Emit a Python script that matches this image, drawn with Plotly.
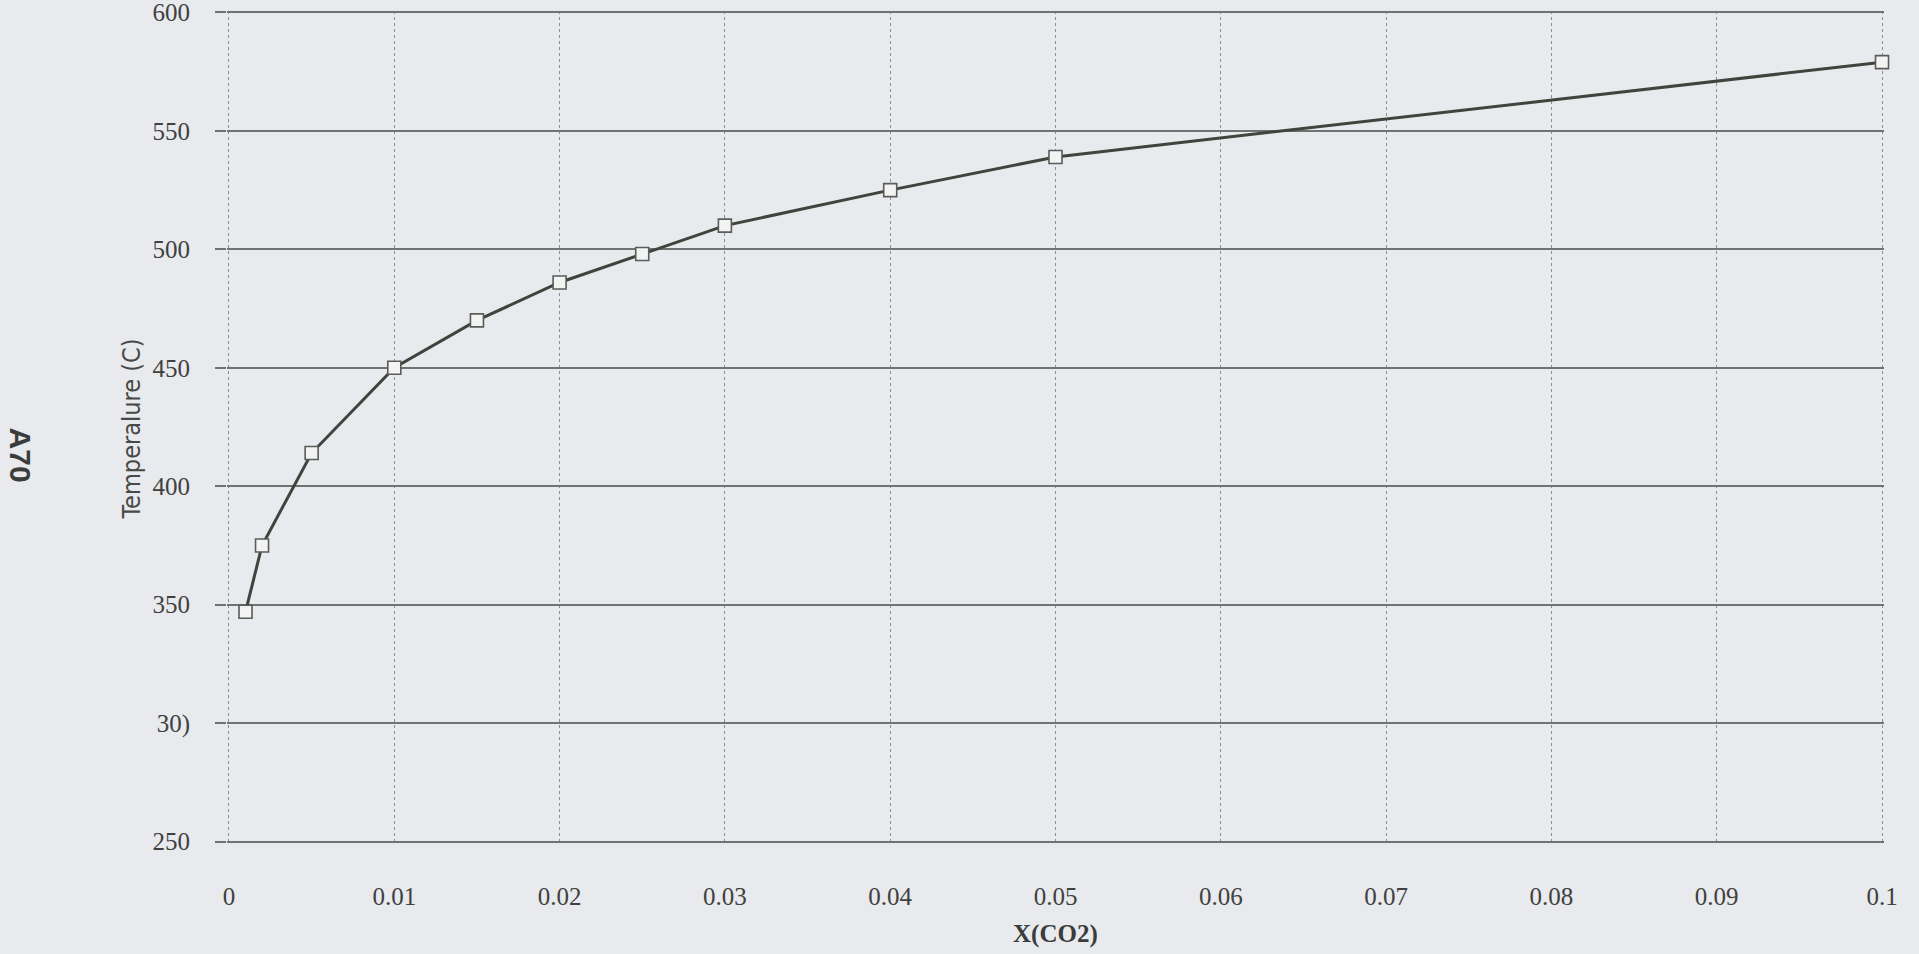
import plotly.graph_objects as go

# CO2 mole fraction vs. temperature (A70)
x_co2 = [0.001, 0.002, 0.005, 0.01, 0.015, 0.02, 0.025, 0.03, 0.04, 0.05, 0.1]
temperature = [347, 375, 414, 450, 470, 486, 498, 510, 525, 539, 579]

x_tick_vals = [0, 0.01, 0.02, 0.03, 0.04, 0.05, 0.06, 0.07, 0.08, 0.09, 0.1]
x_tick_text = ["0", "0.01", "0.02", "0.03", "0.04", "0.05", "0.06", "0.07", "0.08", "0.09", "0.1"]
y_tick_vals = [250, 300, 350, 400, 450, 500, 550, 600]
y_tick_text = ["250", "30)", "350", "400", "450", "500", "550", "600"]

paper_bg = "#e8eaed"
serif = "Liberation Serif, Times New Roman, serif"

fig = go.Figure()
fig.add_trace(go.Scatter(
    x=x_co2,
    y=temperature,
    mode="lines+markers",
    line=dict(color="#3e453d", width=3),
    marker=dict(symbol="square", size=13, color="#f3f4f2",
                line=dict(color="#595c59", width=1.6)),
    cliponaxis=False,
    showlegend=False,
))

fig.update_layout(
    width=1919,
    height=954,
    margin=dict(l=227, r=35, t=11, b=111),
    paper_bgcolor=paper_bg,
    plot_bgcolor=paper_bg,
    font=dict(family=serif, size=25, color="#3f4140"),
    xaxis=dict(
        # padded slightly so the gridlines at 0 and 0.1 are kept
        range=[-0.00012, 0.10012],
        tickvals=x_tick_vals,
        ticktext=x_tick_text,
        automargin=False,
        showgrid=True,
        gridcolor="#8c8e8d",
        gridwidth=1,
        griddash="dot",
        zeroline=False,
        showline=False,
        ticks="",
        ticklabelstandoff=36,
        ticklabeloverflow="allow",
        tickfont=dict(family=serif, size=25, color="#3f4140"),
    ),
    yaxis=dict(
        # padded slightly so the gridlines at 250 and 600 are kept
        range=[249.4, 600.6],
        tickvals=y_tick_vals,
        ticktext=y_tick_text,
        automargin=False,
        showgrid=True,
        gridcolor="#6f7270",
        gridwidth=2,
        zeroline=False,
        showline=False,
        ticks="outside",
        ticklen=11,
        tickwidth=2,
        tickcolor="#6f7270",
        ticklabelstandoff=20,
        ticklabeloverflow="allow",
        tickfont=dict(family=serif, size=25, color="#3f4140"),
    ),
    annotations=[
        dict(
            text="<b>X(CO2)</b>",
            xref="paper", yref="paper",
            x=0.5, y=-0.1095,
            xanchor="center", yanchor="middle",
            showarrow=False,
            font=dict(family=serif, size=25, color="#3a3c3b"),
        ),
        dict(
            text="Temperalure (C)",
            xref="paper", yref="paper",
            x=-0.0575, y=0.498,
            xanchor="center", yanchor="middle",
            textangle=-90,
            showarrow=False,
            font=dict(family="Liberation Sans Narrow, DejaVu Sans Condensed, sans-serif",
                      size=25, color="#474948"),
        ),
        dict(
            text="<b>A70</b>",
            xref="paper", yref="paper",
            x=-0.1245, y=0.466,
            xanchor="center", yanchor="middle",
            textangle=90,
            showarrow=False,
            font=dict(family="Liberation Sans, Arial, sans-serif",
                      size=30, color="#3a3c3b"),
        ),
    ],
)

fig.write_html("out.html")
